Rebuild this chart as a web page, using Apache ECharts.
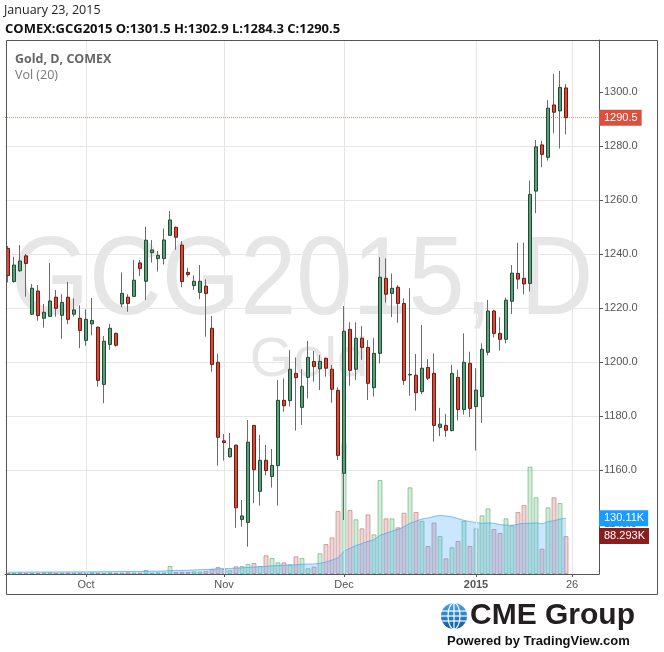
<!DOCTYPE html>
<html><head><meta charset="utf-8">
<script src="https://cdn.jsdelivr.net/npm/echarts@6/dist/echarts.min.js"></script>
<style>html,body{margin:0;padding:0;background:#fff}#c{width:664px;height:652px}</style>
</head><body><div id="c"></div>
<script>
// ---------- data ----------
const symbol = 'GCG2015';
const exchange = 'COMEX';
const dates = [
 '2014-09-12','2014-09-15','2014-09-16','2014-09-17','2014-09-18','2014-09-19','2014-09-22','2014-09-23','2014-09-24','2014-09-25','2014-09-26','2014-09-29','2014-09-30',
 '2014-10-01','2014-10-02','2014-10-03','2014-10-06','2014-10-07','2014-10-08','2014-10-09','2014-10-10','2014-10-13','2014-10-14','2014-10-15','2014-10-16','2014-10-17','2014-10-20','2014-10-21','2014-10-22','2014-10-23','2014-10-24','2014-10-27','2014-10-28','2014-10-29','2014-10-30','2014-10-31',
 '2014-11-03','2014-11-04','2014-11-05','2014-11-06','2014-11-07','2014-11-10','2014-11-11','2014-11-12','2014-11-13','2014-11-14','2014-11-17','2014-11-18','2014-11-19','2014-11-20','2014-11-21','2014-11-24','2014-11-25','2014-11-26','2014-11-27','2014-11-28',
 '2014-12-01','2014-12-02','2014-12-03','2014-12-04','2014-12-05','2014-12-08','2014-12-09','2014-12-10','2014-12-11','2014-12-12','2014-12-15','2014-12-16','2014-12-17','2014-12-18','2014-12-19','2014-12-22','2014-12-23','2014-12-24','2014-12-26','2014-12-29','2014-12-30','2014-12-31',
 '2015-01-02','2015-01-05','2015-01-06','2015-01-07','2015-01-08','2015-01-09','2015-01-12','2015-01-13','2015-01-14','2015-01-15','2015-01-16','2015-01-19','2015-01-20','2015-01-21','2015-01-22','2015-01-23'
];
const futureDates = ['2015-01-26','2015-01-27','2015-01-28','2015-01-29','2015-01-30'];
const opens = [
 1242.1,1229.8,1233.8,1239.3,1217.7,1226.3,1216.2,1216.9,1224.0,1217.3,1224.0,1217.7,1216.2,
 1208.0,1214.1,1212.9,1191.7,1206.5,1210.6,1221.5,1224.0,1224.3,1236.7,1229.9,1240.5,1238.3,1238.3,1246.9,1249.9,1243.3,1233.2,1228.3,1225.8,1228.1,1212.5,1199.9,
 1170.8,1164.9,1169.2,1141.7,1140.6,1176.5,1152.1,1163.6,1157.6,1161.6,1185.8,1185.7,1195.8,1183.2,1194.3,1200.2,1197.5,1201.4,1197.3,1189.5,
 1158.8,1212.1,1197.3,1208.8,1205.4,1190.5,1203.2,1231.0,1225.4,1227.7,1221.7,1195.2,1195.1,1189.0,1198.0,1195.8,1175.8,1176.5,1174.6,1194.3,1182.4,1199.5,
 1183.5,1187.2,1203.6,1218.9,1210.6,1208.4,1222.5,1232.8,1231.0,1229.1,1263.3,1280.4,1275.8,1295.2,1293.0,1301.5
];
const highs = [
 1243.0,1239.0,1243.3,1240.0,1228.9,1228.5,1221.5,1236.7,1226.7,1225.1,1229.6,1223.6,1221.0,
 1219.5,1223.7,1213.1,1209.6,1214.1,1210.9,1233.2,1225.1,1237.8,1237.8,1250.1,1245.2,1241.1,1249.5,1255.9,1250.2,1244.8,1234.9,1232.1,1235.9,1230.6,1217.0,1203.0,
 1173.3,1173.7,1169.4,1148.9,1178.5,1176.7,1173.0,1169.3,1167.8,1193.3,1193.9,1204.4,1201.7,1197.3,1207.8,1204.1,1202.6,1201.6,1198.9,1190.6,
 1220.7,1214.7,1214.7,1213.3,1208.1,1208.8,1238.8,1238.4,1232.8,1228.5,1223.6,1227.3,1203.0,1213.7,1201.1,1203.2,1183.0,1180.7,1198.9,1197.0,1210.6,1203.8,
 1197.7,1206.9,1223.0,1219.3,1216.6,1223.8,1235.9,1244.2,1244.2,1267.2,1282.2,1281.9,1297.0,1306.7,1307.8,1302.9
];
const lows = [
 1229.5,1229.4,1233.4,1224.2,1217.4,1215.3,1212.7,1216.8,1216.8,1208.6,1214.0,1216.8,1205.1,
 1206.0,1209.9,1190.9,1184.7,1204.5,1205.7,1220.3,1218.6,1224.2,1231.9,1223.0,1236.8,1233.5,1236.1,1246.7,1241.6,1227.7,1231.6,1226.7,1223.3,1209.4,1196.4,1161.6,
 1163.5,1164.6,1138.6,1139.0,1131.6,1147.7,1146.8,1158.0,1153.5,1146.8,1181.6,1183.5,1174.6,1176.7,1186.5,1192.7,1189.6,1194.6,1184.9,1163.7,
 1141.5,1191.2,1193.3,1200.8,1185.9,1187.2,1199.5,1222.0,1216.6,1214.6,1191.5,1187.5,1182.0,1188.1,1193.3,1170.5,1172.5,1172.3,1174.3,1178.4,1180.5,1179.6,
 1167.2,1177.5,1202.5,1209.1,1204.2,1206.9,1217.8,1227.0,1225.1,1226.1,1255.1,1272.1,1274.6,1284.7,1279.1,1284.3
];
const closes = [
 1232.0,1235.9,1237.4,1236.5,1227.3,1217.2,1218.4,1222.6,1219.9,1222.1,1215.8,1219.3,1211.7,
 1215.8,1215.4,1193.2,1207.7,1212.5,1206.2,1225.4,1221.7,1230.3,1234.6,1245.1,1241.5,1239.5,1245.2,1252.6,1246.2,1229.8,1232.4,1229.9,1229.9,1225.4,1199.1,1172.1,
 1170.2,1168.0,1146.0,1143.0,1170.3,1160.1,1163.6,1159.8,1161.7,1185.8,1183.8,1197.3,1194.2,1191.0,1201.7,1198.3,1200.2,1197.7,1189.9,1165.4,
 1211.4,1196.9,1208.8,1205.4,1192.1,1203.2,1231.4,1225.1,1227.3,1221.7,1193.2,1195.4,1188.6,1197.7,1194.0,1176.5,1177.0,1174.7,1195.8,1182.4,1199.9,1182.8,
 1189.6,1204.7,1218.9,1210.6,1208.4,1222.9,1232.9,1230.7,1228.9,1262.1,1279.7,1276.9,1294.0,1292.5,1301.7,1290.5
];
// volume in thousands of contracts
const volumes = [
 3.1,2.8,3.5,2.6,3.0,2.4,3.8,4.2,3.0,2.7,3.3,2.9,3.4,
 3.6,4.1,3.2,2.9,3.7,2.5,3.1,3.9,3.3,3.0,9.3,3.4,4.0,3.6,18.6,4.6,5.2,4.8,6.1,5.5,7.0,11.6,16.3,
 11.6,9.0,17.9,18.6,23.3,25.6,18.6,43.5,37.3,27.2,27.2,22.5,41.2,37.3,13.2,17.1,48.2,69.9,85.4,146.8,
 307.0,149.1,127.4,106.4,139.0,92.4,219.0,129.7,129.7,108.7,142.9,201.9,144.5,123.8,65.2,119.9,88.5,36.5,62.1,76.9,123.8,65.2,
 106.4,136.7,153.0,104.9,95.6,129.7,113.5,144.5,160.9,250.1,178.6,59.0,155.3,178.6,165.4,88.293
];
// Vol (20) moving average
const volMA = [
 4.2,4.3,4.3,4.4,4.5,4.5,4.6,4.6,4.7,4.8,4.8,4.9,5.0,
 5.0,5.1,5.2,5.3,5.4,5.5,5.6,5.7,5.8,6.0,6.3,6.5,6.7,6.9,7.8,8.1,8.4,8.8,9.3,9.9,10.5,11.2,12.0,
 12.6,13.0,13.6,14.4,15.3,16.4,17.1,17.9,19.0,19.8,20.3,20.9,21.7,22.6,23.0,23.5,24.9,28.0,32.6,38.0,
 52.5,60.0,66.0,71.0,76.0,80.0,90.0,95.0,100.0,104.0,110.0,118.0,123.0,128.0,130.5,134.0,136.0,135.0,133.0,129.0,125.0,122.0,
 120.0,118.0,119.0,118.0,115.0,114.0,113.5,116.0,118.0,118.0,119.0,117.0,122.0,124.0,128.0,130.11
];
const tickDates = ['2014-10-01','2014-11-03','2014-12-01','2015-01-02','2015-01-26'];
const tickLabels = ['Oct','Nov','Dec','2015','26'];
const priceTicks = [1140,1160,1180,1200,1220,1240,1260,1280,1300];
const headerDate = 'January 23, 2015';

// ---------- build ----------
const cats = dates.concat(futureDates);
const last = dates.length - 1;
const wickData = dates.map((d,i)=>[opens[i],closes[i],lows[i],highs[i]]);
const bodyData = dates.map((d,i)=>[opens[i],closes[i],Math.min(opens[i],closes[i]),Math.max(opens[i],closes[i])]);
const upVol = {color:'rgba(90,185,115,0.28)', borderColor:'rgba(80,170,100,0.55)', borderWidth:1};
const dnVol = {color:'rgba(200,120,120,0.3)', borderColor:'rgba(190,100,100,0.55)', borderWidth:1};
const volData = volumes.map((v,i)=>({value:v, itemStyle: closes[i] >= opens[i] ? upVol : dnVol}));
const fmt = v => v.toFixed(1);
const axisFont = 'Liberation Sans';

const chart = echarts.init(document.getElementById('c'), null, {renderer:'canvas'});
const L = 5, W = 594;
chart.setOption({
  animation:false,
  backgroundColor:'#fff',
  title:[
    {text:headerDate, left:4, top:4, padding:0, textStyle:{fontFamily:'Open Sans', fontSize:12.5, fontWeight:'normal', color:'#222'}},
    {text:`{b|${exchange}:${symbol}} {b|O:}{n|${opens[last].toFixed(1)}} {b|H:}{n|${highs[last].toFixed(1)}} {b|L:}{n|${lows[last].toFixed(1)}} {b|C:}{n|${closes[last].toFixed(1)}}`,
     left:5, top:23, padding:0, textStyle:{fontFamily:'Open Sans', fontSize:13, rich:{b:{fontFamily:'Open Sans',fontSize:13,fontWeight:'bold',color:'#111'}, n:{fontFamily:'Open Sans',fontSize:13,color:'#111'}}}},
    {text:'Gold, D, ' + exchange, left:15, top:53, padding:0, textStyle:{fontFamily:'Open Sans', fontSize:12.5, fontWeight:'bold', color:'#666'}},
    {text:'Vol (20)', left:15, top:69, padding:0, textStyle:{fontFamily:'Open Sans', fontSize:12.5, fontWeight:'normal', color:'#777'}}
  ],
  graphic:[
    {type:'text', z:-10, x:302, y:283, scaleX:0.9, silent:true,
     style:{text: symbol + ', D', x:0, y:0, font:'normal 112px "Liberation Sans"', fill:'#e6e6e6', textAlign:'center', textVerticalAlign:'middle', align:'center', verticalAlign:'middle'}},
    {type:'text', z:-10, x:309, y:361, silent:true,
     style:{text:'Gold', x:0, y:0, font:'normal 56px "Liberation Sans"', fill:'#e6e6e6', textAlign:'center', textVerticalAlign:'middle', align:'center', verticalAlign:'middle'}},
    {type:'rect', z:100, silent:true, shape:{x:6.5, y:40.5, width:651, height:554}, style:{fill:'none', stroke:'#555', lineWidth:1}},
    {type:'group', x:454, y:616, silent:true, children:[
      {type:'circle', shape:{cx:0, cy:0, r:13}, style:{fill:new echarts.graphic.LinearGradient(0,0,0,1,[{offset:0,color:'#4aa8e8'},{offset:1,color:'#0b5aa8'}])}},
      {type:'line', shape:{x1:-12, y1:-5, x2:12, y2:-5}, style:{stroke:'#fff', lineWidth:1.2}},
      {type:'line', shape:{x1:-13, y1:0, x2:13, y2:0}, style:{stroke:'#fff', lineWidth:1.2}},
      {type:'line', shape:{x1:-12, y1:5, x2:12, y2:5}, style:{stroke:'#fff', lineWidth:1.2}},
      {type:'line', shape:{x1:0, y1:-13, x2:0, y2:13}, style:{stroke:'#fff', lineWidth:1.2}},
      {type:'ellipse', shape:{cx:0, cy:0, rx:6, ry:13}, style:{fill:'none', stroke:'#fff', lineWidth:1.2}}
    ]},
    {type:'text', x:470, y:616, silent:true, style:{text:'CME Group', font:'bold 30px "Liberation Sans"', fill:'#231f20', textVerticalAlign:'middle', verticalAlign:'middle'}},
    {type:'text', x:447, y:641, silent:true, style:{text:'Powered by TradingView.com', font:'bold 13px "Liberation Sans"', fill:'#111', textVerticalAlign:'middle', verticalAlign:'middle'}}
  ],
  grid:[
    {left:L, width:W, top:38, height:540},
    {left:L, width:W, top:40, height:534}
  ],
  xAxis:[
    {gridIndex:0, type:'category', data:cats, boundaryGap:true, show:false},
    {gridIndex:1, type:'category', data:cats, boundaryGap:true,
     axisLine:{show:true, lineStyle:{color:'#555'}},
     axisTick:{show:true, alignWithLabel:true, length:3, interval:(i,v)=>tickDates.includes(v), lineStyle:{color:'#555'}},
     axisLabel:{interval:(i,v)=>tickDates.includes(v), margin:5, color:'#555', fontFamily:axisFont, fontSize:11,
       formatter:(v)=>{const t = tickLabels[tickDates.indexOf(v)]; return t === '2015' ? '{b|2015}' : t;},
       rich:{b:{fontWeight:'bold', color:'#555', fontFamily:axisFont, fontSize:11}}},
     splitLine:{show:false}}
  ],
  yAxis:[
    {gridIndex:0, type:'value', position:'right', min:1120, max:1320, interval:20,
     axisLine:{show:false},
     axisTick:{show:true, length:4, customValues:priceTicks, lineStyle:{color:'#555'}},
     axisLabel:{color:'#555', fontFamily:axisFont, fontSize:11, margin:5, formatter:fmt, customValues:priceTicks},
     splitLine:{show:true, showMinLine:false, showMaxLine:false, lineStyle:{color:'#e6e6e6', width:1}}},
    {gridIndex:1, type:'value', position:'right', min:0, max:1244,
     axisLine:{show:true, lineStyle:{color:'#555'}}, axisTick:{show:false}, axisLabel:{show:false}, splitLine:{show:false}}
  ],
  series:[
    {name:'vgrid', type:'line', xAxisIndex:1, yAxisIndex:1, data:[], z:1, silent:true,
     markLine:{silent:true, symbol:'none', animation:false, label:{show:false},
       lineStyle:{color:'#e6e6e6', type:'solid', width:1},
       data: tickDates.map(d=>({xAxis:d}))}},
    {name:'Volume', type:'bar', xAxisIndex:1, yAxisIndex:1, data:volData, barWidth:5, z:2, silent:true,
     markLine:{silent:true, symbol:'none', animation:false, lineStyle:{color:'rgba(0,0,0,0)', width:0},
       label:{show:true, position:'end', distance:0, formatter: volumes[last] + 'K', color:'#fff', backgroundColor:'#8b1d1d', padding:[3,4,2,5], fontFamily:axisFont, fontSize:11},
       data:[{yAxis: volumes[last]}]}},
    {name:'Vol MA', type:'line', xAxisIndex:1, yAxisIndex:1, data:volMA, z:3, silent:true, smooth:0.3, symbol:'none',
     lineStyle:{color:'rgba(70,170,250,0.7)', width:1},
     areaStyle:{color:'rgba(60,165,255,0.38)'},
     markLine:{silent:true, symbol:'none', animation:false, lineStyle:{color:'rgba(0,0,0,0)', width:0},
       label:{show:true, position:'end', distance:0, formatter: volMA[last] + 'K', color:'#fff', backgroundColor:'#1a9bff', padding:[3,4,2,5], fontFamily:axisFont, fontSize:11},
       data:[{yAxis: volMA[last]}]}},
    {name:'wick', type:'candlestick', xAxisIndex:0, yAxisIndex:0, data:wickData, z:5, barWidth:1, silent:true,
     itemStyle:{color:'#6b6b6b', color0:'#6b6b6b', borderColor:'#6b6b6b', borderColor0:'#6b6b6b', borderWidth:1}},
    {name:'Gold', type:'candlestick', xAxisIndex:0, yAxisIndex:0, data:bodyData, z:6, barWidth:3.6, silent:true,
     itemStyle:{color:'#5b9e79', color0:'#d84a38', borderColor:'#1e4d33', borderColor0:'#701a12', borderWidth:1},
     markLine:{silent:true, symbol:'none', animation:false,
       lineStyle:{color:'#e38f88', type:'dotted', width:1},
       label:{show:true, position:'end', distance:0, formatter: fmt(closes[last]), color:'#fff', backgroundColor:'#d9503f', padding:[3,4,2,5], fontFamily:axisFont, fontSize:11},
       data:[{yAxis: closes[last]}]}}
  ]
});
</script></body></html>
